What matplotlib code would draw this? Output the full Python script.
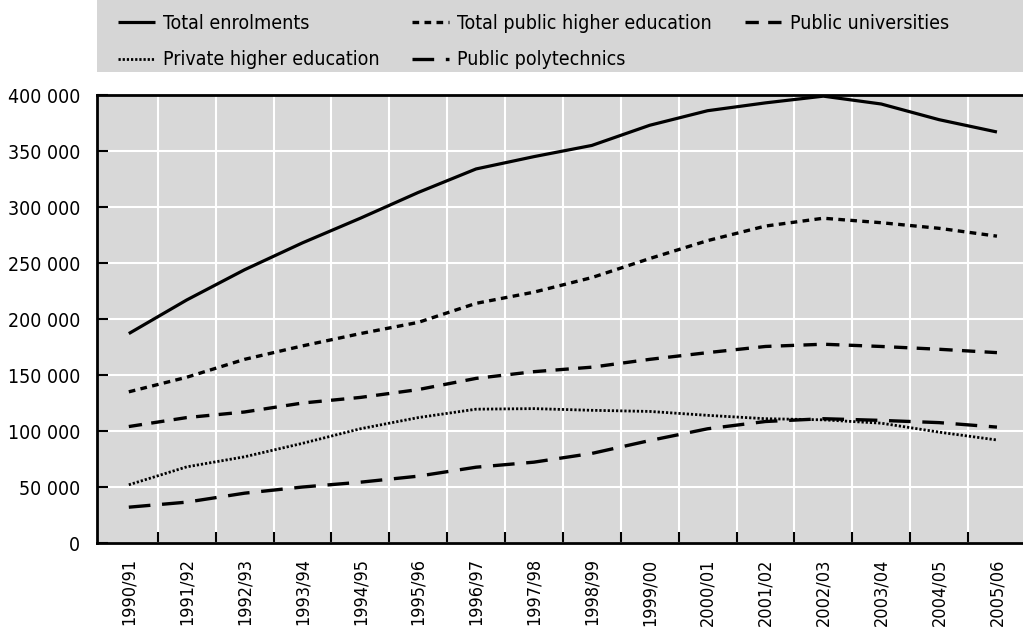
import numpy as np
import matplotlib.pyplot as plt
from matplotlib import font_manager
from matplotlib.patches import Rectangle
from matplotlib.ticker import FuncFormatter

# narrow font if one is around, else fall back to Liberation Sans
narrow = sorted(f.fname for f in font_manager.fontManager.ttflist
                if ("Narrow" in f.fname or "Condensed" in f.fname)
                and not any(k in f.fname for k in ["Bold", "Italic", "Oblique"]))
if narrow:
    fam = font_manager.FontProperties(fname=narrow[0]).get_name()
    plt.rcParams['font.family'] = [fam, 'DejaVu Sans']
    plt.rcParams['font.stretch'] = 'condensed'
    scale = 1.0
else:
    plt.rcParams['font.family'] = ['Liberation Sans', 'DejaVu Sans']
    scale = 0.85

years = ["1990/91", "1991/92", "1992/93", "1993/94", "1994/95", "1995/96", "1996/97", "1997/98",
         "1998/99", "1999/00", "2000/01", "2001/02", "2002/03", "2003/04", "2004/05", "2005/06"]

total = [187000, 217000, 244000, 268000, 290000, 313000, 334000, 345000,
         355000, 373000, 386000, 393000, 399000, 392000, 378000, 367000]
total_public = [135000, 148000, 164000, 176000, 187000, 197000, 214000, 224000,
                237000, 254000, 270000, 283000, 290000, 286000, 281000, 274000]
universities = [104000, 112000, 117000, 125000, 130000, 137000, 147000, 153000,
                157000, 164000, 170000, 175500, 177500, 175500, 173000, 170000]
private = [52000, 68000, 77000, 89000, 102000, 112000, 119500, 120000,
           118500, 117500, 114000, 111000, 110000, 107000, 99000, 92000]
polytechnics = [32000, 36500, 44500, 50000, 54300, 59700, 67700, 72200,
                80000, 91500, 102000, 108500, 111000, 109500, 107500, 103500]

x = np.arange(len(years))
bg = "#d8d8d8"

fig = plt.figure(figsize=(10.23, 6.34), dpi=100)
fig.patches.append(Rectangle((0.0948, 0.8864), 0.9052, 0.1136, transform=fig.transFigure,
                             facecolor="#d6d6d6", edgecolor="none", zorder=0))
ax = fig.add_axes([0.0948, 0.1435, 0.9052, 0.7066])
ax.set_facecolor(bg)

l1, = ax.plot(x, total, color="black", lw=2.3, solid_capstyle="butt", label="Total enrolments")
l2, = ax.plot(x, total_public, color="black", lw=2.4, dashes=(2, 1.6), label="Total public higher education")
l3, = ax.plot(x, universities, color="black", lw=2.4, dashes=(4, 2.8), label="Public universities")
l4, = ax.plot(x, private, color="black", lw=2.0, dashes=(0.8, 0.7), label="Private higher education")
l5, = ax.plot(x, polytechnics, color="black", lw=2.4, dashes=(6.5, 3.5), label="Public polytechnics")

ax.set_xlim(-0.55, 15.45)
ax.set_ylim(0, 400000)
ax.set_xticks(x)
ax.set_xticklabels(years, rotation=90, fontsize=13 * scale)
ax.set_xticks(x[:-1] + 0.5, minor=True)
ax.tick_params(axis="x", which="major", length=0, pad=11)
ax.tick_params(axis="x", which="minor", direction="in", length=8, width=1.5)
ax.set_yticks(np.arange(0, 400001, 50000))
ax.yaxis.set_major_formatter(FuncFormatter(lambda v, p: f"{int(v):,}".replace(",", " ")))
ax.tick_params(axis="y", direction="in", length=8, width=1.5, labelsize=14 * scale, pad=12)

ax.grid(True, axis="y", which="major", color="white", lw=1.5)
ax.grid(True, axis="x", which="minor", color="white", lw=1.5)
ax.set_axisbelow(True)

for s in ["left", "bottom", "top"]:
    ax.spines[s].set_linewidth(2)
ax.spines["right"].set_visible(False)

order = [l1, l4, l2, l5, l3]
fig.legend(order, [h.get_label() for h in order],
           loc="upper left", bbox_to_anchor=(118 / 1023, 0.978), ncol=3, frameon=False,
           borderpad=0, borderaxespad=0,
           fontsize=14 * scale, handlelength=1.9, columnspacing=1.7, labelspacing=0.9,
           handletextpad=0.4)

plt.savefig("out.png", dpi=100)
